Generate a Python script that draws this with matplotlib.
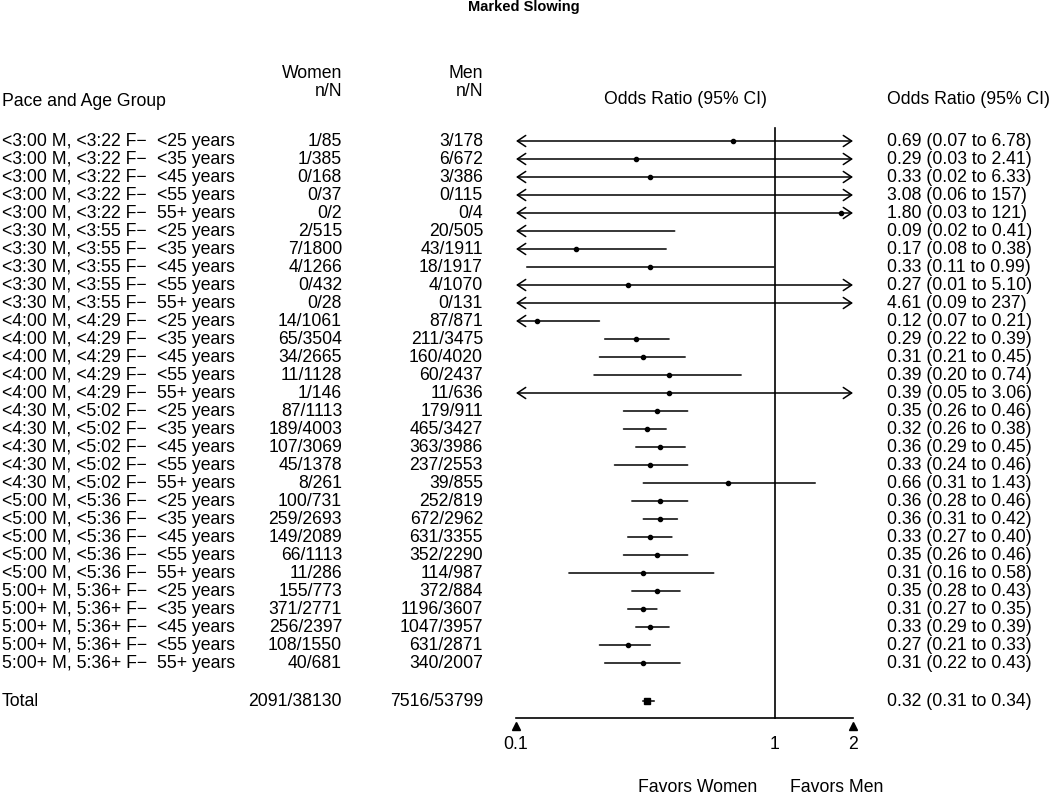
import matplotlib
matplotlib.use("Agg")
import matplotlib.pyplot as plt
import matplotlib.transforms as mtransforms
import numpy as np

plt.rcParams['font.family'] = ['Liberation Sans', 'DejaVu Sans']

paces = ["<3:00 M, <3:22 F\u2212", "<3:30 M, <3:55 F\u2212", "<4:00 M, <4:29 F\u2212",
         "<4:30 M, <5:02 F\u2212", "<5:00 M, <5:36 F\u2212", "5:00+ M, 5:36+ F\u2212"]
ages = ["<25 years", "<35 years", "<45 years", "<55 years", "55+ years"]

women = ["1/85", "1/385", "0/168", "0/37", "0/2",
         "2/515", "7/1800", "4/1266", "0/432", "0/28",
         "14/1061", "65/3504", "34/2665", "11/1128", "1/146",
         "87/1113", "189/4003", "107/3069", "45/1378", "8/261",
         "100/731", "259/2693", "149/2089", "66/1113", "11/286",
         "155/773", "371/2771", "256/2397", "108/1550", "40/681"]
men = ["3/178", "6/672", "3/386", "0/115", "0/4",
       "20/505", "43/1911", "18/1917", "4/1070", "0/131",
       "87/871", "211/3475", "160/4020", "60/2437", "11/636",
       "179/911", "465/3427", "363/3986", "237/2553", "39/855",
       "252/819", "672/2962", "631/3355", "352/2290", "114/987",
       "372/884", "1196/3607", "1047/3957", "631/2871", "340/2007"]
odds = [0.69, 0.29, 0.33, 3.08, 1.80,
        0.09, 0.17, 0.33, 0.27, 4.61,
        0.12, 0.29, 0.31, 0.39, 0.39,
        0.35, 0.32, 0.36, 0.33, 0.66,
        0.36, 0.36, 0.33, 0.35, 0.31,
        0.35, 0.31, 0.33, 0.27, 0.31]
lower = [0.07, 0.03, 0.02, 0.06, 0.03,
         0.02, 0.08, 0.11, 0.01, 0.09,
         0.07, 0.22, 0.21, 0.20, 0.05,
         0.26, 0.26, 0.29, 0.24, 0.31,
         0.28, 0.31, 0.27, 0.26, 0.16,
         0.28, 0.27, 0.29, 0.21, 0.22]
upper = [6.78, 2.41, 6.33, 157, 121,
         0.41, 0.38, 0.99, 5.10, 237,
         0.21, 0.39, 0.45, 0.74, 3.06,
         0.46, 0.38, 0.45, 0.46, 1.43,
         0.46, 0.42, 0.40, 0.46, 0.58,
         0.43, 0.35, 0.39, 0.33, 0.43]
or_text = ["0.69 (0.07 to 6.78)", "0.29 (0.03 to 2.41)", "0.33 (0.02 to 6.33)", "3.08 (0.06 to 157)", "1.80 (0.03 to 121)",
           "0.09 (0.02 to 0.41)", "0.17 (0.08 to 0.38)", "0.33 (0.11 to 0.99)", "0.27 (0.01 to 5.10)", "4.61 (0.09 to 237)",
           "0.12 (0.07 to 0.21)", "0.29 (0.22 to 0.39)", "0.31 (0.21 to 0.45)", "0.39 (0.20 to 0.74)", "0.39 (0.05 to 3.06)",
           "0.35 (0.26 to 0.46)", "0.32 (0.26 to 0.38)", "0.36 (0.29 to 0.45)", "0.33 (0.24 to 0.46)", "0.66 (0.31 to 1.43)",
           "0.36 (0.28 to 0.46)", "0.36 (0.31 to 0.42)", "0.33 (0.27 to 0.40)", "0.35 (0.26 to 0.46)", "0.31 (0.16 to 0.58)",
           "0.35 (0.28 to 0.43)", "0.31 (0.27 to 0.35)", "0.33 (0.29 to 0.39)", "0.27 (0.21 to 0.33)", "0.31 (0.22 to 0.43)"]
total_women = "2091/38130"
total_men = "7516/53799"
total_or, total_lo, total_hi = 0.32, 0.31, 0.34
total_text = "0.32 (0.31 to 0.34)"
xticks = [0.1, 1, 2]
xticklabels = ["0.1", "1", "2"]

W, H = 1050, 794
fig = plt.figure(figsize=(W / 100, H / 100), dpi=100)

xmin, xmax = 0.1, 2.0
ax_left, ax_right = 516, 853
ax_top, ax_bottom = 128, 718
row0, rowstep = 141, 18.0
ytop = (ax_top - row0) / rowstep
ybot = (ax_bottom - row0) / rowstep
total_y = (701 - row0) / rowstep

fs = 12.7

ax = fig.add_axes([ax_left / W, 1 - ax_bottom / H, (ax_right - ax_left) / W, (ax_bottom - ax_top) / H])
ax.set_xscale('log')
ax.set_xlim(xmin, xmax)
ax.set_ylim(ybot, ytop)
for s in ['top', 'right', 'left']:
    ax.spines[s].set_visible(False)
ax.spines['bottom'].set_linewidth(1.2)
ax.set_yticks([])
ax.set_xticks(xticks)
ax.set_xticklabels(xticklabels, fontsize=fs)
ax.xaxis.set_minor_locator(matplotlib.ticker.NullLocator())
ax.tick_params(axis='x', length=0, pad=13)

# vertical reference line
ax.plot([1, 1], [ytop, ybot], color='black', lw=1.2, clip_on=False)

# triangles under axis
tri_tr = mtransforms.offset_copy(ax.get_xaxis_transform(), fig=fig, y=-8, units='dots')
ax.plot([xmin, xmax], [0, 0], marker='^', ls='none', color='black', ms=6, transform=tri_tr, clip_on=False)

lw = 1.1
for i in range(len(odds)):
    y = i
    lo, hi, o = lower[i], upper[i], odds[i]
    left_arrow = lo < xmin
    right_arrow = hi > xmax
    a = max(lo, xmin)
    b = min(hi, xmax)
    if left_arrow and right_arrow:
        style = '<->'
    elif left_arrow:
        style = '<-'
    elif right_arrow:
        style = '->'
    else:
        style = '-'
    ax.annotate('', xy=(b, y), xytext=(a, y),
                arrowprops=dict(arrowstyle=style + (',head_length=0.6,head_width=0.4' if style != '-' else ''),
                                lw=lw, color='black', shrinkA=0, shrinkB=0, mutation_scale=10),
                annotation_clip=False)
    if xmin <= o <= xmax:
        ax.plot([o], [y], marker='o', color='black', ms=3, clip_on=False)

# total
ax.plot([total_lo, total_hi], [total_y, total_y], color='black', lw=lw, clip_on=False)
ax.plot([total_or], [total_y], marker='s', color='black', ms=5, clip_on=False)

trans = mtransforms.blended_transform_factory(fig.transFigure, ax.transData)
def fx(px):
    return px / W

for i in range(len(odds)):
    ax.text(fx(2), i, paces[i // 5], transform=trans, ha='left', va='center', fontsize=fs)
    ax.text(fx(157), i, ages[i % 5], transform=trans, ha='left', va='center', fontsize=fs)
    ax.text(fx(342), i, women[i], transform=trans, ha='right', va='center', fontsize=fs)
    ax.text(fx(483), i, men[i], transform=trans, ha='right', va='center', fontsize=fs)
    ax.text(fx(887), i, or_text[i], transform=trans, ha='left', va='center', fontsize=fs)

ax.text(fx(2), total_y, "Total", transform=trans, ha='left', va='center', fontsize=fs)
ax.text(fx(342), total_y, total_women, transform=trans, ha='right', va='center', fontsize=fs)
ax.text(fx(483), total_y, total_men, transform=trans, ha='right', va='center', fontsize=fs)
ax.text(fx(887), total_y, total_text, transform=trans, ha='left', va='center', fontsize=fs)

def fy(py):
    return 1 - py / H

fig.text(fx(524), fy(7), "Marked Slowing", ha='center', va='center', fontsize=10.5, fontweight='bold')
fig.text(fx(2), fy(101), "Pace and Age Group", ha='left', va='center', fontsize=fs)
fig.text(fx(342), fy(74), "Women", ha='right', va='center', fontsize=fs)
fig.text(fx(342), fy(92), "n/N", ha='right', va='center', fontsize=fs)
fig.text(fx(483), fy(74), "Men", ha='right', va='center', fontsize=fs)
fig.text(fx(483), fy(92), "n/N", ha='right', va='center', fontsize=fs)
fig.text(fx(685), fy(100), "Odds Ratio (95% CI)", ha='center', va='center', fontsize=fs)
fig.text(fx(887), fy(100), "Odds Ratio (95% CI)", ha='left', va='center', fontsize=fs)
fig.text(fx(698), fy(787), "Favors Women", ha='center', va='center', fontsize=fs)
fig.text(fx(837), fy(787), "Favors Men", ha='center', va='center', fontsize=fs)

fig.savefig("out.png", dpi=100, facecolor='white')
